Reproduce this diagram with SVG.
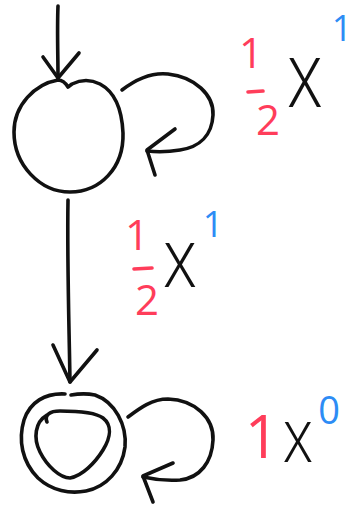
<svg xmlns="http://www.w3.org/2000/svg" width="358" height="505" viewBox="0 0 358 505">
<style>
.ink{fill:none;stroke:#111;stroke-width:3.6;stroke-linecap:round;stroke-linejoin:round}
.red{fill:#ff3d5a}
.blue{fill:#2d8cf5}
.blk{fill:#111}
.t{font-family:"Open Sans","Liberation Sans",sans-serif;font-weight:400;text-anchor:middle}
.xl{font-weight:300}
.bar{stroke:#ff3d5a;stroke-width:3.6;stroke-linecap:round}
</style>
<rect width="358" height="505" fill="#fff"/>
<g id="connectors">
  <g id="initial">
    <path class="ink" d="M58,6 C57,30 58,55 58,78"/>
    <path class="ink" d="M43,57 L58,78 L79,53"/>
  </g>
  <g id="loop1">
    <path class="ink" d="M122,90 C135,80 150,72 168,74 C195,77 214,95 213,115 C212,135 200,147 180,150 C168,152 156,152 147,151"/>
    <path class="ink" d="M175,129 L147,150 L155,175"/>
  </g>
  <g id="transition">
    <path class="ink" d="M68,200 C67,260 69,320 70,382"/>
    <path class="ink" d="M53,345 L70,382 L97,350"/>
  </g>
  <g id="loop2">
    <path class="ink" d="M128,417 C140,408 152,399 168,399 C195,400 214,418 213,440 C212,462 200,478 180,480 C166,481 152,479 143,477"/>
    <path class="ink" d="M173,463 L143,476 L153,502"/>
  </g>
</g>
<g id="state1">
  <path class="ink" d="M68,87 C65,82 62,80 58,80 C35,84 14,105 14,132 C14,165 40,192 70,192 C100,192 124,168 123,133 C122,110 115,92 100,84 C90,79 80,80 72,84 L68,87"/>
</g>
<g id="state2">
  <path class="ink" d="M65,394 C45,393 30,402 24,420 C18,440 22,462 38,478 C52,491 70,494 86,491 C106,487 122,470 125,447 C127,425 115,402 95,395 C85,393 77,394 71,395"/>
  <path class="ink" d="M47,422 C44,415 50,411 60,411 C75,411 95,412 103,418 C112,425 111,437 103,450 C95,463 82,476 70,478 C60,478 47,466 40,452 C33,438 35,422 47,415"/>
</g>
<g id="label1">
  <text class="t red" x="251" y="68" font-size="42">1</text>
  <line class="bar" x1="248" y1="92" x2="263" y2="91"/>
  <text class="t red" x="268" y="135" font-size="42">2</text>
  <text class="t blk xl" font-size="80" transform="translate(305,107) scale(0.9,1.15)">x</text>
  <text class="t blue" x="342" y="41" font-size="36">1</text>
</g>
<g id="label2">
  <text class="t red" x="137" y="250" font-size="42">1</text>
  <line class="bar" x1="134" y1="269" x2="152" y2="268"/>
  <text class="t red" x="147" y="315" font-size="42">2</text>
  <text class="t blk xl" font-size="76" transform="translate(180,287) scale(0.9,1.1)">x</text>
  <text class="t blue" x="213" y="237" font-size="36">1</text>
</g>
<g id="label3">
  <text class="t red" x="262" y="458" font-size="60">1</text>
  <text class="t blk xl" font-size="68" transform="translate(298,462) scale(0.9,1.1)">x</text>
  <text class="t blue" x="329" y="424" font-size="38">0</text>
</g>
</svg>
